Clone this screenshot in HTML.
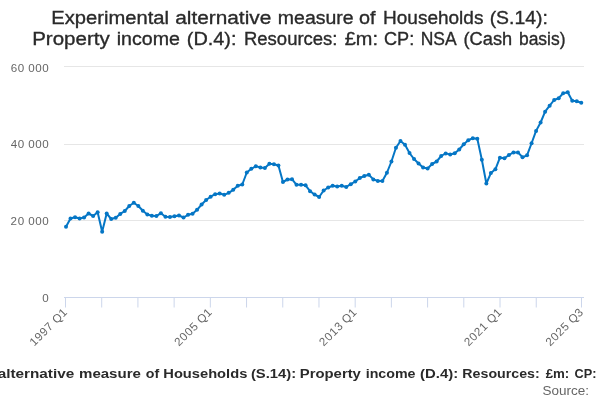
<!DOCTYPE html>
<html><head><meta charset="utf-8"><style>
html,body{margin:0;padding:0;background:#fff;width:600px;height:400px;overflow:hidden}
svg{display:block;will-change:transform;font-family:"Liberation Sans",sans-serif}
</style></head><body>
<svg width="600" height="400" viewBox="0 0 600 400">
<rect width="600" height="400" fill="#ffffff"/>
<g fill="#2a2a2a" font-size="18.8" stroke="#2a2a2a" stroke-width="0.35"><text x="51.32" y="24" textLength="117.65" lengthAdjust="spacingAndGlyphs">Experimental</text><text x="175.19" y="24" textLength="96.06" lengthAdjust="spacingAndGlyphs">alternative</text><text x="277.88" y="24" textLength="75.71" lengthAdjust="spacingAndGlyphs">measure</text><text x="359.04" y="24" textLength="16.55" lengthAdjust="spacingAndGlyphs">of</text><text x="383.02" y="24" textLength="100.40" lengthAdjust="spacingAndGlyphs">Households</text><text x="489.67" y="24" textLength="58.22" lengthAdjust="spacingAndGlyphs">(S.14):</text><text x="32.19" y="45" textLength="77.47" lengthAdjust="spacingAndGlyphs">Property</text><text x="116.76" y="45" textLength="63.23" lengthAdjust="spacingAndGlyphs">income</text><text x="186.84" y="45" textLength="49.59" lengthAdjust="spacingAndGlyphs">(D.4):</text><text x="243.96" y="45" textLength="93.56" lengthAdjust="spacingAndGlyphs">Resources:</text><text x="344.71" y="45" textLength="33.24" lengthAdjust="spacingAndGlyphs">£m:</text><text x="383.95" y="45" textLength="30.23" lengthAdjust="spacingAndGlyphs">CP:</text><text x="420.64" y="45" textLength="35.97" lengthAdjust="spacingAndGlyphs">NSA</text><text x="463.54" y="45" textLength="48.67" lengthAdjust="spacingAndGlyphs">(Cash</text><text x="518.95" y="45" textLength="46.56" lengthAdjust="spacingAndGlyphs">basis)</text></g>
<g stroke="#e6e6e6" stroke-width="1">
<line x1="64" y1="66.5" x2="584" y2="66.5"/>
<line x1="64" y1="144.5" x2="584" y2="144.5"/>
<line x1="64" y1="220.5" x2="584" y2="220.5"/>
</g>
<g stroke="#ccd6eb" stroke-width="1">
<line x1="64" y1="297.5" x2="584" y2="297.5"/>
<line x1="65.50" y1="297.5" x2="65.50" y2="307.5"/><line x1="101.71" y1="297.5" x2="101.71" y2="307.5"/><line x1="137.92" y1="297.5" x2="137.92" y2="307.5"/><line x1="174.13" y1="297.5" x2="174.13" y2="307.5"/><line x1="210.34" y1="297.5" x2="210.34" y2="307.5"/><line x1="246.55" y1="297.5" x2="246.55" y2="307.5"/><line x1="282.76" y1="297.5" x2="282.76" y2="307.5"/><line x1="318.97" y1="297.5" x2="318.97" y2="307.5"/><line x1="355.18" y1="297.5" x2="355.18" y2="307.5"/><line x1="391.39" y1="297.5" x2="391.39" y2="307.5"/><line x1="427.60" y1="297.5" x2="427.60" y2="307.5"/><line x1="463.81" y1="297.5" x2="463.81" y2="307.5"/><line x1="500.02" y1="297.5" x2="500.02" y2="307.5"/><line x1="536.24" y1="297.5" x2="536.24" y2="307.5"/><line x1="581.50" y1="297.5" x2="581.50" y2="307.5"/>
</g>
<g fill="#666666" font-size="11.6"><text x="10.71 17.71 24.44 28.20 35.20 42.20" y="72.10">60 000</text><text x="10.71 17.71 24.44 28.20 35.20 42.20" y="147.60">40 000</text><text x="10.56 17.71 24.44 28.20 35.20 42.20" y="224.50">20 000</text><text x="42.20" y="301.55">0</text></g>
<g fill="#666666" font-size="11.6"><text x="20.20 27.36 34.49 41.65 48.46 51.94 61.15" y="313.00" transform="rotate(-45 68.00 313.00)">1997 Q1</text><text x="164.95 172.23 179.37 186.47 193.31 196.78 205.99" y="313.00" transform="rotate(-45 212.84 313.00)">2005 Q1</text><text x="309.79 317.07 324.16 331.37 338.15 341.62 350.83" y="313.00" transform="rotate(-45 357.68 313.00)">2013 Q1</text><text x="454.63 461.92 468.91 476.14 482.99 486.46 495.67" y="313.00" transform="rotate(-45 502.52 313.00)">2021 Q1</text><text x="536.10 543.39 550.38 557.62 564.46 567.94 577.22" y="313.00" transform="rotate(-45 584.00 313.00)">2025 Q3</text></g>
<path d="M66.00 226.80 L70.52 218.50 L75.04 217.20 L79.56 218.50 L84.08 217.50 L88.60 213.50 L93.12 216.00 L97.64 212.20 L102.16 231.80 L106.68 213.50 L111.20 219.00 L115.72 217.80 L120.24 213.90 L124.76 211.00 L129.28 206.00 L133.80 202.80 L138.32 206.00 L142.84 210.80 L147.36 214.50 L151.88 215.80 L156.40 216.10 L160.92 213.20 L165.44 216.80 L169.96 217.00 L174.48 216.20 L179.00 215.50 L183.52 217.50 L188.04 214.80 L192.56 213.80 L197.08 209.80 L201.60 204.50 L206.12 200.00 L210.64 196.70 L215.16 194.20 L219.68 193.50 L224.20 194.80 L228.72 192.80 L233.24 189.80 L237.76 185.80 L242.28 184.50 L246.80 172.50 L251.32 168.80 L255.84 166.30 L260.36 167.40 L264.88 168.00 L269.40 163.80 L273.92 164.20 L278.44 165.50 L282.96 182.00 L287.48 179.50 L292.00 179.20 L296.52 184.80 L301.04 184.80 L305.56 185.30 L310.08 191.20 L314.60 194.50 L319.12 197.00 L323.64 190.50 L328.16 187.50 L332.68 185.80 L337.20 186.50 L341.72 185.80 L346.24 187.00 L350.76 184.20 L355.28 181.50 L359.80 178.00 L364.32 176.00 L368.84 174.75 L373.36 179.40 L377.88 181.00 L382.40 181.00 L386.92 172.75 L391.44 161.50 L395.96 147.80 L400.48 141.00 L405.00 144.80 L409.52 153.10 L414.04 159.00 L418.56 163.50 L423.08 167.50 L427.60 168.50 L432.12 164.00 L436.64 161.50 L441.16 156.00 L445.68 153.40 L450.20 154.50 L454.72 153.25 L459.24 149.50 L463.76 144.25 L468.28 140.20 L472.80 138.25 L477.32 138.70 L481.84 159.70 L486.36 183.50 L490.88 173.10 L495.40 169.30 L499.92 157.70 L504.44 158.30 L508.96 155.00 L513.48 152.40 L518.00 152.40 L522.52 157.25 L527.04 155.30 L531.56 143.25 L536.08 130.90 L540.60 122.50 L545.12 111.70 L549.64 105.70 L554.16 100.00 L558.68 98.20 L563.20 93.25 L567.72 92.20 L572.24 100.75 L576.76 101.20 L581.28 102.70" fill="none" stroke="#0576c5" stroke-width="2.0" stroke-linejoin="round" stroke-linecap="round"/>
<g fill="#0576c5"><circle cx="66.00" cy="226.80" r="2.0"/><circle cx="70.52" cy="218.50" r="2.0"/><circle cx="75.04" cy="217.20" r="2.0"/><circle cx="79.56" cy="218.50" r="2.0"/><circle cx="84.08" cy="217.50" r="2.0"/><circle cx="88.60" cy="213.50" r="2.0"/><circle cx="93.12" cy="216.00" r="2.0"/><circle cx="97.64" cy="212.20" r="2.0"/><circle cx="102.16" cy="231.80" r="2.0"/><circle cx="106.68" cy="213.50" r="2.0"/><circle cx="111.20" cy="219.00" r="2.0"/><circle cx="115.72" cy="217.80" r="2.0"/><circle cx="120.24" cy="213.90" r="2.0"/><circle cx="124.76" cy="211.00" r="2.0"/><circle cx="129.28" cy="206.00" r="2.0"/><circle cx="133.80" cy="202.80" r="2.0"/><circle cx="138.32" cy="206.00" r="2.0"/><circle cx="142.84" cy="210.80" r="2.0"/><circle cx="147.36" cy="214.50" r="2.0"/><circle cx="151.88" cy="215.80" r="2.0"/><circle cx="156.40" cy="216.10" r="2.0"/><circle cx="160.92" cy="213.20" r="2.0"/><circle cx="165.44" cy="216.80" r="2.0"/><circle cx="169.96" cy="217.00" r="2.0"/><circle cx="174.48" cy="216.20" r="2.0"/><circle cx="179.00" cy="215.50" r="2.0"/><circle cx="183.52" cy="217.50" r="2.0"/><circle cx="188.04" cy="214.80" r="2.0"/><circle cx="192.56" cy="213.80" r="2.0"/><circle cx="197.08" cy="209.80" r="2.0"/><circle cx="201.60" cy="204.50" r="2.0"/><circle cx="206.12" cy="200.00" r="2.0"/><circle cx="210.64" cy="196.70" r="2.0"/><circle cx="215.16" cy="194.20" r="2.0"/><circle cx="219.68" cy="193.50" r="2.0"/><circle cx="224.20" cy="194.80" r="2.0"/><circle cx="228.72" cy="192.80" r="2.0"/><circle cx="233.24" cy="189.80" r="2.0"/><circle cx="237.76" cy="185.80" r="2.0"/><circle cx="242.28" cy="184.50" r="2.0"/><circle cx="246.80" cy="172.50" r="2.0"/><circle cx="251.32" cy="168.80" r="2.0"/><circle cx="255.84" cy="166.30" r="2.0"/><circle cx="260.36" cy="167.40" r="2.0"/><circle cx="264.88" cy="168.00" r="2.0"/><circle cx="269.40" cy="163.80" r="2.0"/><circle cx="273.92" cy="164.20" r="2.0"/><circle cx="278.44" cy="165.50" r="2.0"/><circle cx="282.96" cy="182.00" r="2.0"/><circle cx="287.48" cy="179.50" r="2.0"/><circle cx="292.00" cy="179.20" r="2.0"/><circle cx="296.52" cy="184.80" r="2.0"/><circle cx="301.04" cy="184.80" r="2.0"/><circle cx="305.56" cy="185.30" r="2.0"/><circle cx="310.08" cy="191.20" r="2.0"/><circle cx="314.60" cy="194.50" r="2.0"/><circle cx="319.12" cy="197.00" r="2.0"/><circle cx="323.64" cy="190.50" r="2.0"/><circle cx="328.16" cy="187.50" r="2.0"/><circle cx="332.68" cy="185.80" r="2.0"/><circle cx="337.20" cy="186.50" r="2.0"/><circle cx="341.72" cy="185.80" r="2.0"/><circle cx="346.24" cy="187.00" r="2.0"/><circle cx="350.76" cy="184.20" r="2.0"/><circle cx="355.28" cy="181.50" r="2.0"/><circle cx="359.80" cy="178.00" r="2.0"/><circle cx="364.32" cy="176.00" r="2.0"/><circle cx="368.84" cy="174.75" r="2.0"/><circle cx="373.36" cy="179.40" r="2.0"/><circle cx="377.88" cy="181.00" r="2.0"/><circle cx="382.40" cy="181.00" r="2.0"/><circle cx="386.92" cy="172.75" r="2.0"/><circle cx="391.44" cy="161.50" r="2.0"/><circle cx="395.96" cy="147.80" r="2.0"/><circle cx="400.48" cy="141.00" r="2.0"/><circle cx="405.00" cy="144.80" r="2.0"/><circle cx="409.52" cy="153.10" r="2.0"/><circle cx="414.04" cy="159.00" r="2.0"/><circle cx="418.56" cy="163.50" r="2.0"/><circle cx="423.08" cy="167.50" r="2.0"/><circle cx="427.60" cy="168.50" r="2.0"/><circle cx="432.12" cy="164.00" r="2.0"/><circle cx="436.64" cy="161.50" r="2.0"/><circle cx="441.16" cy="156.00" r="2.0"/><circle cx="445.68" cy="153.40" r="2.0"/><circle cx="450.20" cy="154.50" r="2.0"/><circle cx="454.72" cy="153.25" r="2.0"/><circle cx="459.24" cy="149.50" r="2.0"/><circle cx="463.76" cy="144.25" r="2.0"/><circle cx="468.28" cy="140.20" r="2.0"/><circle cx="472.80" cy="138.25" r="2.0"/><circle cx="477.32" cy="138.70" r="2.0"/><circle cx="481.84" cy="159.70" r="2.0"/><circle cx="486.36" cy="183.50" r="2.0"/><circle cx="490.88" cy="173.10" r="2.0"/><circle cx="495.40" cy="169.30" r="2.0"/><circle cx="499.92" cy="157.70" r="2.0"/><circle cx="504.44" cy="158.30" r="2.0"/><circle cx="508.96" cy="155.00" r="2.0"/><circle cx="513.48" cy="152.40" r="2.0"/><circle cx="518.00" cy="152.40" r="2.0"/><circle cx="522.52" cy="157.25" r="2.0"/><circle cx="527.04" cy="155.30" r="2.0"/><circle cx="531.56" cy="143.25" r="2.0"/><circle cx="536.08" cy="130.90" r="2.0"/><circle cx="540.60" cy="122.50" r="2.0"/><circle cx="545.12" cy="111.70" r="2.0"/><circle cx="549.64" cy="105.70" r="2.0"/><circle cx="554.16" cy="100.00" r="2.0"/><circle cx="558.68" cy="98.20" r="2.0"/><circle cx="563.20" cy="93.25" r="2.0"/><circle cx="567.72" cy="92.20" r="2.0"/><circle cx="572.24" cy="100.75" r="2.0"/><circle cx="576.76" cy="101.20" r="2.0"/><circle cx="581.28" cy="102.70" r="2.0"/></g>
<g font-size="13.2" font-weight="bold" fill="#2a2a2a"><text x="-2.35" y="377.7" textLength="76.57" lengthAdjust="spacingAndGlyphs">alternative</text><text x="79.01" y="377.7" textLength="61.91" lengthAdjust="spacingAndGlyphs">measure</text><text x="145.74" y="377.7" textLength="13.43" lengthAdjust="spacingAndGlyphs">of</text><text x="163.32" y="377.7" textLength="83.98" lengthAdjust="spacingAndGlyphs">Households</text><text x="250.96" y="377.7" textLength="45.16" lengthAdjust="spacingAndGlyphs">(S.14):</text><text x="299.81" y="377.7" textLength="61.07" lengthAdjust="spacingAndGlyphs">Property</text><text x="365.71" y="377.7" textLength="49.78" lengthAdjust="spacingAndGlyphs">income</text><text x="420.06" y="377.7" textLength="38.08" lengthAdjust="spacingAndGlyphs">(D.4):</text><text x="462.35" y="377.7" textLength="77.31" lengthAdjust="spacingAndGlyphs">Resources:</text><text x="545.66" y="377.7" textLength="23.61" lengthAdjust="spacingAndGlyphs">£m:</text><text x="574.48" y="377.7" textLength="21.95" lengthAdjust="spacingAndGlyphs">CP:</text></g>
<text x="589" y="395" font-size="12.9" fill="#666666" text-anchor="end" textLength="46.5" lengthAdjust="spacingAndGlyphs">Source:</text>
</svg>
</body></html>
